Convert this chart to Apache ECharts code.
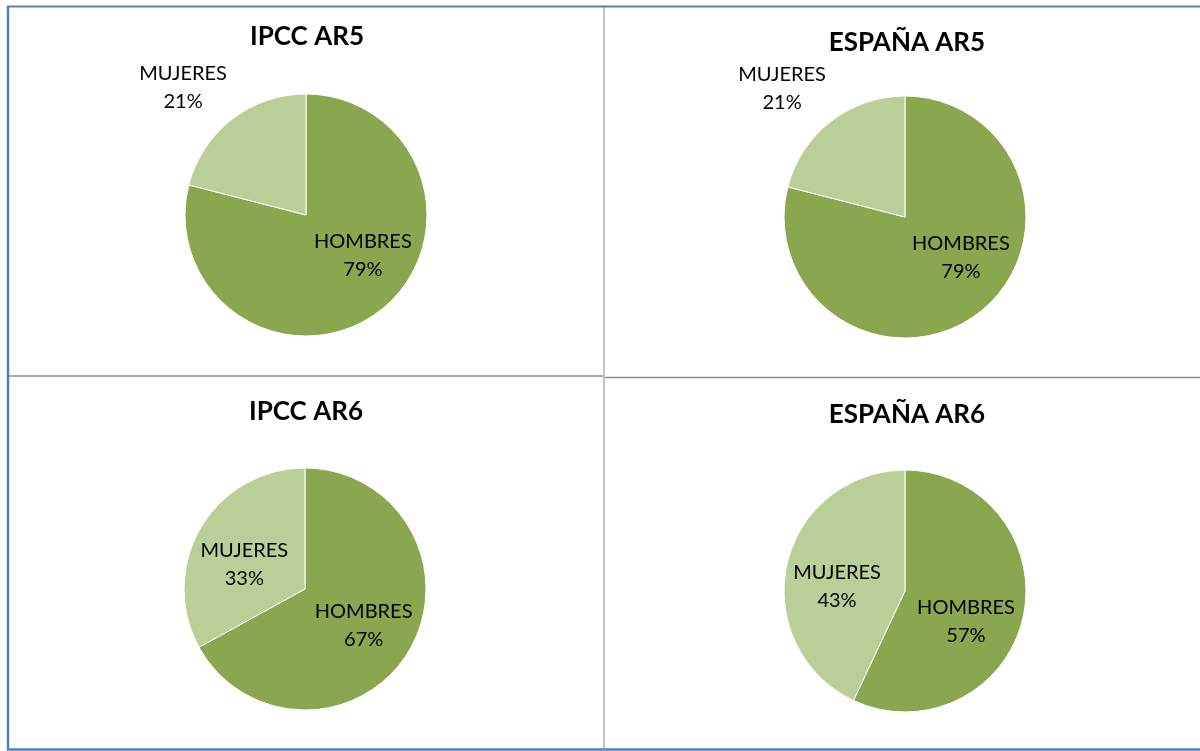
<!DOCTYPE html>
<html>
<head>
<meta charset="utf-8">
<script src="https://cdn.jsdelivr.net/npm/echarts@6/dist/echarts.min.js"></script>
<style>
  html, body { margin: 0; padding: 0; background: #fff; }
  #chart { width: 1200px; height: 751px; }
</style>
</head>
<body>
<div id="chart"></div>
<script>
// panel titles and values (percent)
const panels = ['IPCC AR5', 'ESPAÑA AR5', 'IPCC AR6', 'ESPAÑA AR6'];
const categories = ['HOMBRES', 'MUJERES'];
const hombres = [79, 79, 67, 57];
const mujeres = [21, 21, 33, 43];

// layout per panel
const centers = [[306, 215], [905, 217], [305, 589], [905, 591]];
const titleLefts = [302, 902, 301, 902];
const titleTops = [19, 25, 394, 397];
const hombresOffset = [[18, -10], [17, -10], [4, 4], [-1, 17]];
const mujeresOffset = [[-84, -77], [-84, -78], [-6, 8], [-6, 9]];

const dark = '#8aa64f';
const light = '#bacf98';
const font = 'Lato, "Liberation Sans", sans-serif';

const chart = echarts.init(document.getElementById('chart'));

const option = {
    backgroundColor: '#fff',
    animation: false,
    title: panels.map((t, i) => ({
        text: t,
        left: titleLefts[i],
        top: titleTops[i],
        textAlign: 'center',
        textStyle: { fontSize: 26, fontWeight: 'bold', color: '#000', fontFamily: font }
    })),
    graphic: [
        // inner dividers
        { type: 'line', shape: { x1: 604, y1: 7, x2: 604, y2: 748 }, style: { stroke: '#c4c4c4', lineWidth: 2 } },
        { type: 'line', shape: { x1: 9, y1: 376, x2: 603, y2: 376 }, style: { stroke: '#8c8c8c', lineWidth: 1.5 } },
        { type: 'line', shape: { x1: 605, y1: 377.5, x2: 1200, y2: 377.5 }, style: { stroke: '#8c8c8c', lineWidth: 1.5 } },
        // outer frame
        { type: 'line', shape: { x1: 8, y1: 6, x2: 8, y2: 750 }, style: { stroke: '#4f81bd', lineWidth: 2.5 } },
        { type: 'line', shape: { x1: 7, y1: 6.5, x2: 1200, y2: 6.5 }, style: { stroke: '#4f81bd', lineWidth: 2 } },
        { type: 'line', shape: { x1: 7, y1: 749.5, x2: 1200, y2: 749.5 }, style: { stroke: '#4f81bd', lineWidth: 2.5 } }
    ],
    series: panels.map((t, i) => ({
        name: t,
        type: 'pie',
        center: centers[i],
        radius: 121,
        startAngle: 90,
        clockwise: true,
        silent: true,
        itemStyle: { borderColor: '#fff', borderWidth: 1 },
        label: {
            show: true,
            position: 'inside',
            formatter: '{b}\n{c}%',
            fontSize: 20,
            lineHeight: 28,
            color: '#000',
            fontFamily: font
        },
        labelLine: { show: false },
        data: [
            { name: categories[0], value: hombres[i], itemStyle: { color: dark },
              label: { offset: hombresOffset[i] } },
            { name: categories[1], value: mujeres[i], itemStyle: { color: light },
              label: { offset: mujeresOffset[i] } }
        ]
    }))
};

chart.setOption(option);
</script>
</body>
</html>
